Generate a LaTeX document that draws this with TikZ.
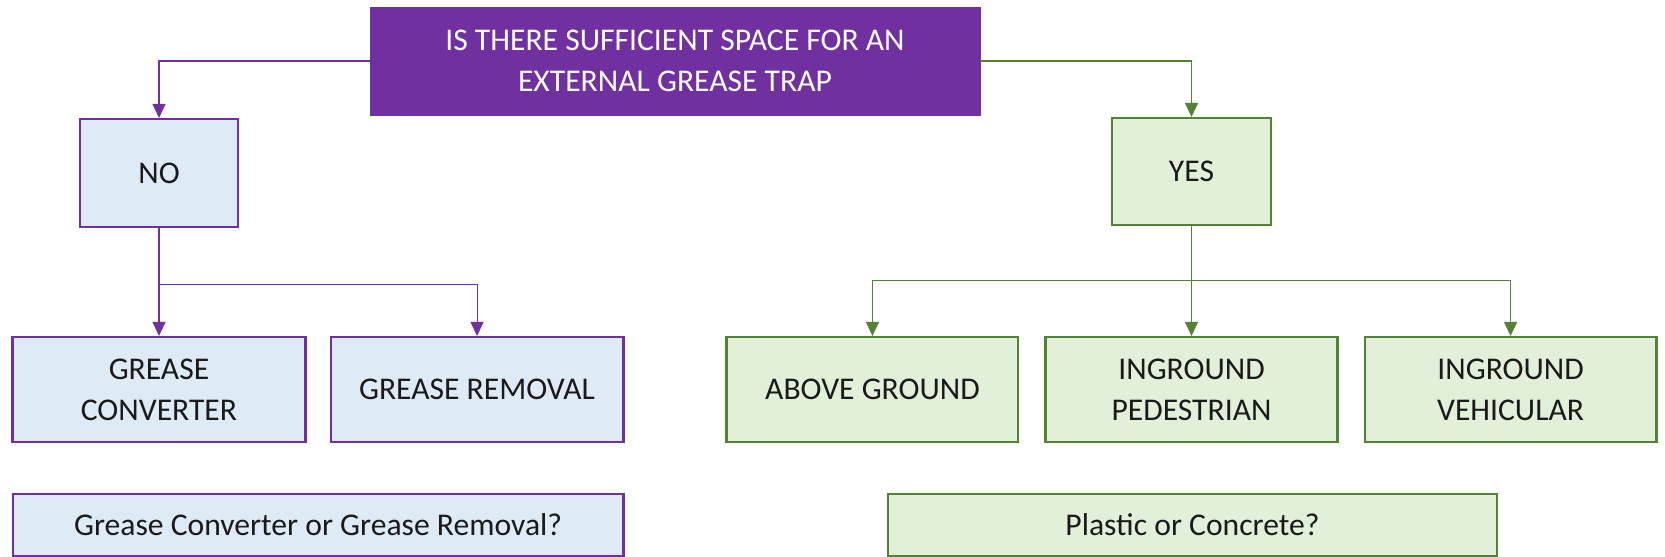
\documentclass[tikz,border=0pt]{standalone}
\usepackage{fontspec}
\setmainfont{Carlito}
\usetikzlibrary{positioning,arrows.meta}
\definecolor{cPur}{HTML}{7030A0}
\definecolor{cPurF}{HTML}{DEEBF7}
\definecolor{cGrn}{HTML}{548235}
\definecolor{cGrnF}{HTML}{E2F0D9}
\definecolor{cTxt}{HTML}{1A1A1A}
\newcommand{\boxfont}{\fontsize{18}{23.5}\selectfont}
\tikzset{
  qbox/.style={draw=cPur,fill=cPur,text=white,minimum width=12.2cm,minimum height=2.16cm,align=center,font=\boxfont},
  nbox/.style={draw=cPur,fill=cPurF,text=cTxt,line width=1.2pt,minimum width=5.86cm,minimum height=2.1cm,align=center,font=\boxfont},
  ybox/.style={draw=cGrn,fill=cGrnF,text=cTxt,line width=1.2pt,minimum width=5.84cm,minimum height=2.1cm,align=center,font=\boxfont},
  pedge/.style={-{Triangle[length=0.28cm,width=0.26cm]},line width=0.6pt,draw=cPur},
  gedge/.style={-{Triangle[length=0.28cm,width=0.26cm]},line width=0.6pt,draw=cGrn},
}
\begin{document}
\begin{tikzpicture}[x=0.02cm,y=-0.02cm,node distance=0.46cm]
  \useasboundingbox (0,0) rectangle (1665,557);
  \node[qbox] (q) at (675,61) {IS THERE SUFFICIENT SPACE FOR AN\\EXTERNAL GREASE TRAP};
  \node[nbox,minimum width=3.16cm,minimum height=2.16cm] (no) at (159,173) {NO};
  \node[ybox,minimum width=3.18cm,minimum height=2.14cm] (yes) at (1191.5,171.5) {YES};
  \node[nbox] (conv) at (159,389.5) {GREASE\\CONVERTER};
  \node[nbox,right=of conv] (rem) {GREASE REMOVAL};
  \node[ybox] (ped) at (1191.5,389.5) {INGROUND\\PEDESTRIAN};
  \node[ybox,left=0.5cm of ped] (above) {ABOVE GROUND};
  \node[ybox,right=0.5cm of ped] (veh) {INGROUND\\VEHICULAR};
  \node[nbox,minimum width=12.22cm,minimum height=1.24cm] (qno) at (318,525) {Grease Converter or Grease Removal?};
  \node[ybox,minimum width=12.18cm,minimum height=1.24cm] (qyes) at (1192.5,525) {Plastic or Concrete?};
  \draw[pedge] (q.west) -| (no.north);
  \draw[gedge] (q.east) -| (yes.north);
  \draw[pedge] (no.south) -- (conv.north);
  \draw[pedge] (no.south) -- ++(0,56) -| (rem.north);
  \draw[gedge] (yes.south) -- (ped.north);
  \draw[gedge] (yes.south) -- ++(0,54) -| (above.north);
  \draw[gedge] (yes.south) -- ++(0,54) -| (veh.north);
\end{tikzpicture}
\end{document}
